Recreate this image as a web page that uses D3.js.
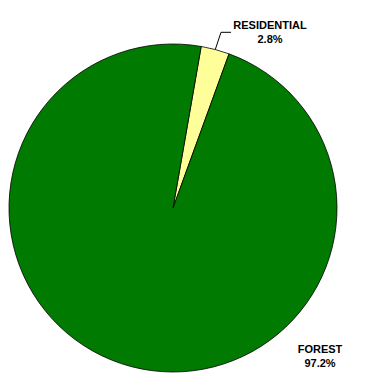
<!DOCTYPE html>
<html><head><meta charset="utf-8">
<script src="https://cdn.jsdelivr.net/npm/d3@7"></script>
<style>body{margin:0;background:#fff}svg{display:block}</style>
</head><body>
<svg id="c" width="368" height="392"></svg>
<script>
const categories = ["RESIDENTIAL", "FOREST"];
const values = [2.8, 97.2];
const labels = ["2.8%", "97.2%"];
const colors = ["#FFFF99", "#007A00"];

const svg = d3.select("#c");
const cx = 173, cy = 208, r = 164;
const startOffset = 9.9 * Math.PI / 180;

const pie = d3.pie().sort(null).value(d => d)
  .startAngle(startOffset).endAngle(startOffset + 2 * Math.PI);
const arcs = pie(values);
const arc = d3.arc().innerRadius(0).outerRadius(r);

const g = svg.append("g").attr("transform", `translate(${cx},${cy})`);
g.selectAll("path").data(arcs).join("path")
  .attr("d", arc)
  .attr("fill", (d, i) => colors[i])
  .attr("stroke", "#000")
  .attr("stroke-width", 0.8);

// Residential label with leader line
const a0 = arcs[0];
const mid = (a0.startAngle + a0.endAngle) / 2;
const px = Math.sin(mid) * r, py = -Math.cos(mid) * r;
g.append("path")
  .attr("d", `M${px},${py} L${221 - cx},${32.3 - cy} L${231 - cx},${32.3 - cy}`)
  .attr("fill", "none").attr("stroke", "#000").attr("stroke-width", 1);

const font = "'Liberation Sans', Arial, sans-serif";
function label(x, y, lines) {
  const t = svg.append("text").attr("x", x).attr("y", y)
    .attr("text-anchor", "middle").attr("font-family", font)
    .attr("font-size", 11).attr("font-weight", "bold").attr("fill", "#000");
  lines.forEach((l, i) => t.append("tspan").attr("x", x).attr("dy", i === 0 ? 0 : 14).text(l));
}
label(270, 29, [categories[0], labels[0]]);
label(320, 352.5, [categories[1], labels[1]]);
</script>
</body></html>
